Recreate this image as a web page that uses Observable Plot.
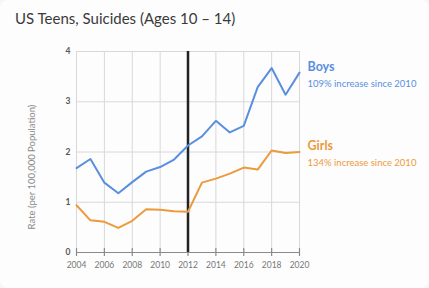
<!DOCTYPE html>
<html>
<head>
<meta charset="utf-8">
<script src="https://cdn.jsdelivr.net/npm/d3@7"></script>
<script src="https://cdn.jsdelivr.net/npm/@observablehq/plot@0.6"></script>
<style>
  html, body { margin: 0; padding: 0; background: #f6f6f6; }
  #card { position: relative; width: 429px; height: 288px; background: #fdfdfd; border-radius: 8px; overflow: hidden; }
  #title { position: absolute; left: 15px; top: 9px; font-family: Lato, "Open Sans", sans-serif; font-size: 15px; color: #3a3a3a; white-space: nowrap; }
  #chart { position: absolute; left: 0; top: 0; }
</style>
</head>
<body>
<div id="card">
  <div id="chart"></div>
  <div id="title">US Teens, Suicides (Ages 10 – 14)</div>
</div>
<script>
const years = [2004,2005,2006,2007,2008,2009,2010,2011,2012,2013,2014,2015,2016,2017,2018,2019,2020];
const boys  = [1.68,1.86,1.39,1.18,1.40,1.61,1.70,1.85,2.13,2.31,2.62,2.39,2.52,3.29,3.67,3.14,3.58];
const girls = [0.94,0.64,0.61,0.49,0.63,0.86,0.85,0.82,0.81,1.39,1.47,1.57,1.69,1.65,2.03,1.98,2.00];
const seriesNames = ["Boys", "Girls"];
const seriesNotes = ["109% increase since 2010", "134% increase since 2010"];
const seriesColors = ["#5a8fdf", "#ec9a3c"];
const xTicks = [2004,2006,2008,2010,2012,2014,2016,2018,2020];
const yTicks = [0,1,2,3,4];
const markerYear = 2012;

const data = [];
years.forEach((y, i) => {
  data.push({year: y, value: boys[i], series: seriesNames[0]});
  data.push({year: y, value: girls[i], series: seriesNames[1]});
});
const lastVals = [boys[boys.length - 1], girls[girls.length - 1]];
const labels = seriesNames.map((n, i) => ({name: n, note: seriesNotes[i], color: seriesColors[i], year: years[years.length - 1], value: lastVals[i]}));

const font = "Lato, 'Open Sans', sans-serif";
const chart = Plot.plot({
  width: 429,
  height: 288,
  marginLeft: 76,
  marginRight: 130,
  marginTop: 51,
  marginBottom: 36,
  style: {background: "transparent", fontFamily: font},
  x: {type: "linear", domain: [2004, 2020], label: null},
  y: {type: "linear", domain: [0, 4], label: null},
  color: {domain: seriesNames, range: seriesColors},
  marks: [
    Plot.gridX(xTicks, {stroke: "#d8d8d8", strokeOpacity: 1, strokeWidth: 1}),
    Plot.gridY(yTicks.filter(d => d > 0), {stroke: "#d8d8d8", strokeOpacity: 1, strokeWidth: 1}),
    Plot.ruleY([0], {stroke: "#8a8a8a", strokeWidth: 1.2}),
    Plot.ruleX(xTicks, {y1: 0, y2: 0, insetTop: -4, insetBottom: -4, stroke: "#8a8a8a", strokeWidth: 1.2}),
    Plot.axisX(xTicks, {tickSize: 0, tickPadding: 9, fontSize: 8.5, fill: "#777", tickFormat: d => String(d), label: null}),
    Plot.axisY(yTicks, {tickSize: 0, tickPadding: 6, fontSize: 8.5, fontWeight: "bold", fill: "#555", tickFormat: d => String(d), label: null}),
    Plot.ruleX([markerYear], {y1: 0, y2: 4, stroke: "#222", strokeWidth: 2.5}),
    Plot.line(data, {x: "year", y: "value", stroke: "series", strokeWidth: 2}),
    Plot.text(labels, {x: "year", y: "value", text: "name", fill: "color", dx: 8, dy: -6, textAnchor: "start", fontWeight: "bold", fontSize: 12.5}),
    Plot.text(labels, {x: "year", y: "value", text: "note", fill: "color", dx: 8, dy: 11, textAnchor: "start", fontSize: 9.5})
  ]
});
// y-axis title (rotated)
const svg = d3.select(chart);
svg.append("text")
  .attr("transform", "translate(35,167) rotate(-90)")
  .attr("text-anchor", "middle")
  .attr("fill", "#8a8a8a")
  .attr("font-size", 9.5)
  .attr("font-family", font)
  .text("Rate (per 100,000 Population)");
document.getElementById("chart").appendChild(chart);
</script>
</body>
</html>
